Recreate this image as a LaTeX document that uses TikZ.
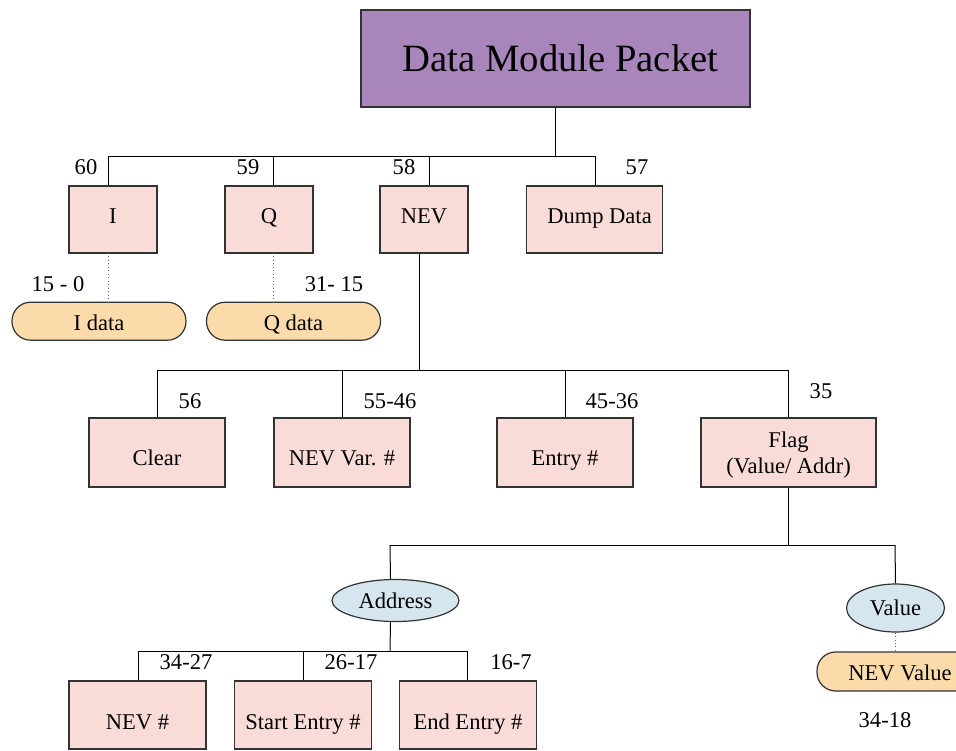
\documentclass[tikz,border=0pt]{standalone}
\usepackage{fontspec}
\setmainfont{Liberation Serif}
\usetikzlibrary{shapes.geometric}

\definecolor{titlefill}{HTML}{A886BB}
\definecolor{fieldfill}{HTML}{F9DCD8}
\definecolor{pillfill}{HTML}{FADBA9}
\definecolor{kindfill}{HTML}{D6E6EE}
\definecolor{boxline}{HTML}{333333}

\tikzset{
  base/.style={draw=boxline, line width=0.9pt, inner sep=0pt, align=center,
    font=\fontsize{16.9}{19.5}\selectfont},
  % baseline of a one-line label sits (#1)/2 below the node centre
  drop/.style={text height=#1, text depth=0pt},
  headbox/.style={base, fill=titlefill, minimum width=291.75pt, minimum height=72.75pt,
    font=\fontsize{29}{34}\selectfont},
  smallfield/.style={base, drop=6pt, fill=fieldfill, minimum width=66pt, minimum height=50.25pt},
  widefield/.style={base, drop=19.8pt, fill=fieldfill, minimum width=102pt, minimum height=51.75pt},
  lowfield/.style={base, drop=21pt, fill=fieldfill, minimum width=102.75pt, minimum height=51pt},
  pill/.style={base, drop=14pt, fill=pillfill, rounded corners=14pt, minimum width=130.5pt, minimum height=28.5pt},
  kind/.style={base, ellipse, fill=kindfill},
  bits/.style={inner sep=0pt, font=\fontsize{16.9}{19.5}\selectfont},
  wire/.style={line width=0.75pt},
  tap/.style={line width=0.6pt, dotted, black!60},
}

\begin{document}
\begin{tikzpicture}[x=0.75pt,y=-0.75pt]
\useasboundingbox (0,0) rectangle (956,750);

% ---- top level ----
\node[headbox] (title) at (555.5,58.5) {\hspace*{7.5pt}Data Module Packet};

\node[smallfield] (I)   at (113,219.5) {I};
\node[smallfield] (Q)   at (269,219.5) {Q};
\node[smallfield] (NEV) at (424,219.5) {NEV};
\node[smallfield, minimum width=102pt] (dump) at (594.5,219.5) {\hspace*{7.5pt}Dump Data};

\node[bits] (n60) at (86,167) {60};
\node[bits] (n59) at (248,167) {59};
\node[bits] (n58) at (404,167) {58};
\node[bits] (n57) at (637,167) {57};

\coordinate (tb)  at (555,156);
\coordinate (dI)  at (108,156);
\coordinate (dQ)  at (273,156);
\coordinate (dN)  at (429,156);
\coordinate (dD)  at (595,156);
\draw[wire] (title.south -| tb) -- (tb);
\draw[wire] (dI) -- (dD);
\draw[wire] (dI) -- (dI |- I.north);
\draw[wire] (dQ) -- (dQ |- Q.north);
\draw[wire] (dN) -- (dN |- NEV.north);
\draw[wire] (dD) -- (dD |- dump.north);

% ---- I / Q data ----
\node[pill] (Idata) at (99,321.2) {I data};
\node[pill] (Qdata) at (293.5,321.2) {Q data};
\node[bits] (b150)  at (58,284) {15 - 0};
\node[bits] (b3115) at (334,284) {31- 15};
\coordinate (tI) at (108,253);
\coordinate (tQ) at (273,253);
\draw[tap] (tI) -- (tI |- Idata.north);
\draw[tap] (tQ) -- (tQ |- Qdata.north);

% ---- NEV fields ----
\node[widefield] (clear) at (157,452.5) {Clear};
\node[widefield] (var)   at (342,452.5) {NEV Var. \#};
\node[widefield] (entry) at (565,452.5) {Entry \#};
\node[base, fill=fieldfill, minimum width=131.25pt, minimum height=51.75pt] (flag) at (788.5,452.5)
  {\rule{0pt}{16pt}Flag\\(Value/ Addr)};

\node[bits] (n56)   at (190,401) {56};
\node[bits] (n5546) at (390,401) {55-46};
\node[bits] (n4536) at (612,401) {45-36};
\node[bits] (n35)   at (821,391) {35};

\coordinate (nb) at (419,370);
\coordinate (dC) at (157,370);
\coordinate (dV) at (342,370);
\coordinate (dE) at (565,370);
\coordinate (dF) at (788,370);
\draw[wire] (nb |- NEV.south) -- (nb);
\draw[wire] (dC) -- (dF);
\draw[wire] (dC) -- (clear.north);
\draw[wire] (dV) -- (var.north);
\draw[wire] (dE) -- (entry.north);
\draw[wire] (dF) -- (dF |- flag.north);

% ---- flag branches ----
\node[kind, minimum width=95.25pt, minimum height=31.5pt] (addr) at (395.5,600.5) {Address};
\node[kind, minimum width=73.5pt, minimum height=36pt] (val) at (895.5,608) {Value};

\coordinate (fb) at (788,545);
\coordinate (dA) at (390,545);
\coordinate (dW) at (895,545);
\draw[wire] (fb |- flag.south) -- (fb);
\draw[wire] (dA) -- (dW);
\draw[wire] (dA) -- ([xshift=-3.75pt]addr.north);
\draw[wire] (dW) -- (val.north);

% ---- value ----
\node[pill, drop=14pt, minimum width=124.5pt, minimum height=29.25pt] (nevval) at (900,671.5) {NEV Value};
\node[bits] (b3418) at (885,720) {34-18};
\draw[tap] (val.south) -- (val.south |- nevval.north);

% ---- address fields ----
\node[lowfield] (nevnum) at (137.5,715) {NEV \#};
\node[lowfield] (start)  at (303,715)   {Start Entry \#};
\node[lowfield] (endent) at (468,715)   {End Entry \#};

\node[bits] (b3427) at (186,662) {34-27};
\node[bits] (b2617) at (351,662) {26-17};
\node[bits] (b167)  at (511,662) {16-7};

\coordinate (ab) at (390,651);
\coordinate (dN2) at (138,651);
\coordinate (dS)  at (303,651);
\coordinate (dEn) at (467,651);
\draw[wire] ([xshift=-3.75pt]addr.south) -- (ab);
\draw[wire] (dN2) -- (dEn);
\draw[wire] (dN2) -- (dN2 |- nevnum.north);
\draw[wire] (dS)  -- (dS |- start.north);
\draw[wire] (dEn) -- (dEn |- endent.north);
\end{tikzpicture}
\end{document}
